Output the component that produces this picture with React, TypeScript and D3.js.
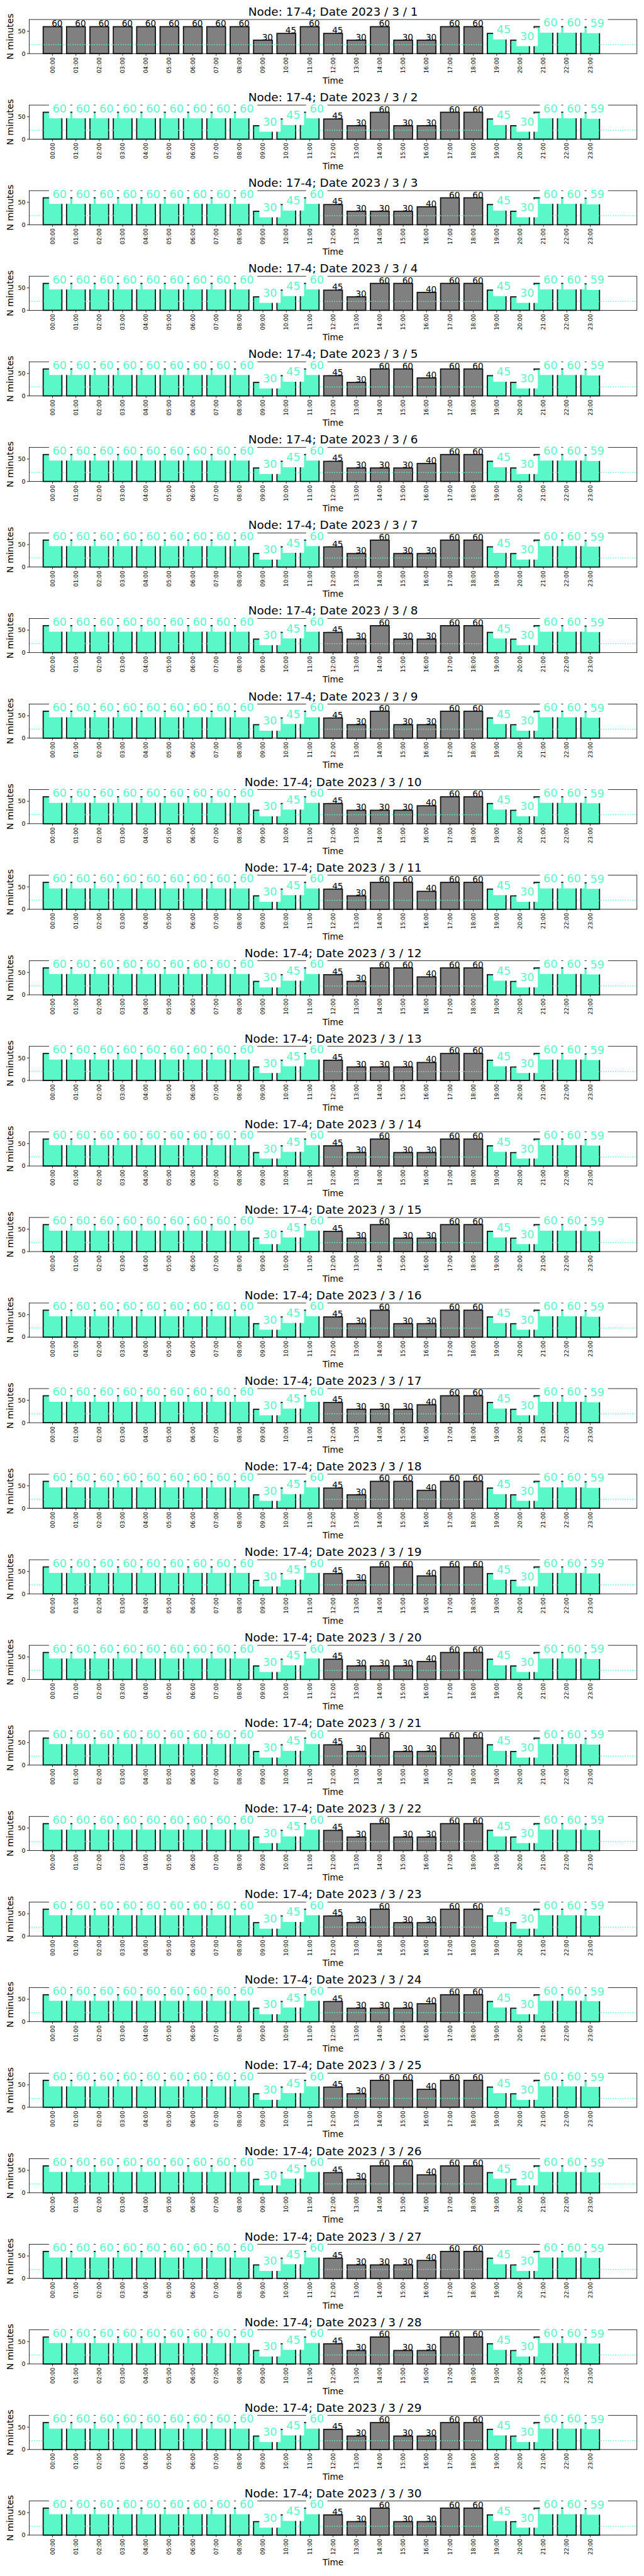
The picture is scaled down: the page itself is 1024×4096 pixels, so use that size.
import * as d3 from "d3";

// reference is 1500x6000, drawn at 0.682
const S = 0.682;
const W = 1500;
const H = 6000;

const hourLabels = [
  "00:00", "01:00", "02:00", "03:00", "04:00", "05:00", "06:00", "07:00",
  "08:00", "09:00", "10:00", "11:00", "12:00", "13:00", "14:00", "15:00",
  "16:00", "17:00", "18:00", "19:00", "20:00", "21:00", "22:00", "23:00",
];

// minutes per hour, 00:00-11:00
const morning = [60, 60, 60, 60, 60, 60, 60, 60, 60, 30, 45, 60];
// 12:00-18:00, three weekly patterns
const afternoonA = [45, 30, 60, 30, 30, 60, 60];
const afternoonB = [45, 30, 30, 30, 40, 60, 60];
const afternoonC = [45, 30, 60, 60, 40, 60, 60];
// 19:00-23:00
const evening = [45, 30, 60, 60, 59];

const dayPattern = [
  "A", "A", "B", "C", "C", "B", "A", "A", "A", "B",
  "C", "C", "B", "A", "A", "A", "B", "C", "C", "B",
  "A", "A", "A", "B", "C", "C", "B", "A", "A", "A",
];
const greyMorningDays = [1];

const threshold = 20;
const yMax = 76;
const yTicks = [0, 50];

const GREEN = "#5af7c8";
const GREY = "#808080";

const pitch = 199.5;
const axTop = 45.5;
const axBottom = 125;
const axLeft = 68;
const axRight = 1485;

const afternoons: Record<string, number[]> = {
  A: afternoonA,
  B: afternoonB,
  C: afternoonC,
};

function Panel({ day, pattern }: { day: number; pattern: string }) {
  const off = (day - 1) * pitch;
  const top = off + axTop;
  const bottom = off + axBottom;
  const values = [...morning, ...afternoons[pattern], ...evening];
  const x = d3.scaleLinear([-1, 25], [axLeft, axRight]);
  const y = d3.scaleLinear([0, yMax], [bottom, top]);
  const bw = x(0.8) - x(0);
  const isGreen = (i: number) =>
    i >= 19 || (i <= 11 && !greyMorningDays.includes(day));

  const fsGrey = 20;
  const fsGreen = 26;
  const pad = 0.32 * fsGreen;

  return (
    <g>
      {values.map((v, i) => (
        <rect
          key={"b" + i}
          x={x(i) - bw / 2}
          y={y(v)}
          width={bw}
          height={y(0) - y(v)}
          fill={isGreen(i) ? GREEN : GREY}
          stroke="#111"
          strokeWidth={2.6}
        />
      ))}
      <line
        x1={axLeft}
        x2={axRight}
        y1={y(threshold)}
        y2={y(threshold)}
        stroke={GREEN}
        strokeWidth={2.2}
        strokeDasharray="2.2 3.4"
      />
      <rect
        x={axLeft}
        y={top}
        width={axRight - axLeft}
        height={bottom - top}
        fill="none"
        stroke="#000"
        strokeWidth={1.2}
      />
      {hourLabels.map((lab, i) => (
        <g key={"t" + i}>
          <line x1={x(i)} x2={x(i)} y1={bottom} y2={bottom + 5} stroke="#000" strokeWidth={1.2} />
          <text
            transform={`translate(${x(i)},${bottom + 8.5}) rotate(-90)`}
            textAnchor="end"
            dy="0.35em"
            fontSize={13}
          >
            {lab}
          </text>
        </g>
      ))}
      {yTicks.map((t) => (
        <g key={"y" + t}>
          <line x1={axLeft - 5} x2={axLeft} y1={y(t)} y2={y(t)} stroke="#000" strokeWidth={1.2} />
          <text x={axLeft - 8.5} y={y(t)} dy="0.35em" textAnchor="end" fontSize={14}>
            {t}
          </text>
        </g>
      ))}
      {values.map((v, i) =>
        isGreen(i) ? (
          <g key={"l" + i}>
            <rect
              x={x(i) - pad}
              y={y(v) - 0.76 * fsGreen - pad}
              width={1.272 * fsGreen + 2 * pad}
              height={0.98 * fsGreen + 2 * pad}
              fill="#fff"
            />
            <text x={x(i)} y={y(v)} fontSize={fsGreen} fill={GREEN}>
              {v}
            </text>
          </g>
        ) : (
          <text key={"l" + i} x={x(i) - 2} y={y(v)} fontSize={fsGrey} fill="#000">
            {v}
          </text>
        )
      )}
      <text x={(axLeft + axRight) / 2} y={top - 8.8} textAnchor="middle" fontSize={27}>
        {`Node: 17-4; Date 2023 / 3 / ${day}`}
      </text>
      <text
        transform={`translate(23,${(top + bottom) / 2}) rotate(-90)`}
        textAnchor="middle"
        dy="0.35em"
        fontSize={21}
      >
        N minutes
      </text>
      <text x={(axLeft + axRight) / 2} y={bottom + 70} textAnchor="middle" fontSize={20}>
        Time
      </text>
    </g>
  );
}

export default function App() {
  return (
    <svg
      width={W * S}
      height={H * S}
      viewBox={`0 0 ${W} ${H}`}
      style={{ position: "absolute", left: 0, top: 0, background: "#fff" }}
      fontFamily="DejaVu Sans"
    >
      <rect width={W} height={H} fill="#fff" />
      {dayPattern.map((p, d) => (
        <Panel key={d} day={d + 1} pattern={p} />
      ))}
    </svg>
  );
}
